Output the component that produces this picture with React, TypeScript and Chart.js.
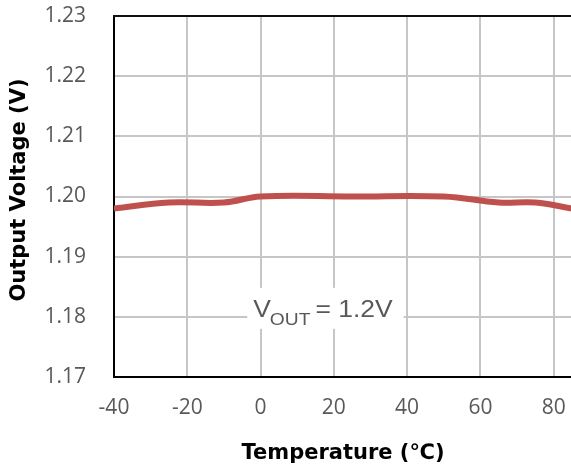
import React, { useEffect, useRef } from "react";
import { Chart, registerables } from "chart.js";

Chart.register(...registerables);

// Output voltage vs. junction temperature
const temperatures = [-40, -25, -10, 0, 25, 50, 65, 75, 85];
const outputVoltage = [1.198, 1.199, 1.199, 1.2, 1.2, 1.2, 1.199, 1.199, 1.198];
const xTickValues = [-40, -20, 0, 20, 40, 60, 80];
const yTickValues = [1.17, 1.18, 1.19, 1.2, 1.21, 1.22, 1.23];

const xTitle = "Temperature (℃)";
const yTitle = "Output Voltage (V)";
const noteMain = "V";
const noteSub = "OUT";
const noteRest = "= 1.2V";

const LINE_RED = "#C0504D";
const TEXT_GREY = "#595959";
const GRID_GREY = "#c6c6c6";
const TITLE_FONT = "bold 21px 'DejaVu Sans', sans-serif";

// Frame, axis titles and the V_OUT note
const decorations = {
  id: "decorations",
  beforeDatasetsDraw(chart: any) {
    const { ctx, scales } = chart;
    const x = scales.x;
    const y = scales.y;
    ctx.save();

    // note box, anchored to the data space
    const textLeft = x.getPixelForValue(-2);
    const baseline = y.getPixelForValue(1.18);
    const sx = 1.15;
    ctx.font = "23px 'Liberation Sans', Arial, sans-serif";
    const wMain = ctx.measureText(noteMain).width * sx;
    const wRest = ctx.measureText(noteRest).width * sx;
    ctx.font = "16px 'Liberation Sans', Arial, sans-serif";
    const wSub = ctx.measureText(noteSub).width * 1.2;
    const gap = 5;
    const total = wMain + wSub + gap + wRest;
    ctx.fillStyle = "#ffffff";
    ctx.fillRect(textLeft - 6, baseline - 29, total + 16, 41);

    ctx.fillStyle = TEXT_GREY;
    ctx.textBaseline = "alphabetic";
    ctx.textAlign = "left";
    ctx.save();
    ctx.translate(textLeft, baseline);
    ctx.scale(sx, 1);
    ctx.font = "23px 'Liberation Sans', Arial, sans-serif";
    ctx.fillText(noteMain, 0, 0);
    ctx.restore();
    ctx.save();
    ctx.translate(textLeft + wMain - 1, baseline + 8);
    ctx.scale(1.2, 1);
    ctx.font = "16px 'Liberation Sans', Arial, sans-serif";
    ctx.fillText(noteSub, 0, 0);
    ctx.restore();
    ctx.save();
    ctx.translate(textLeft + wMain - 1 + wSub + gap, baseline);
    ctx.scale(sx, 1);
    ctx.font = "23px 'Liberation Sans', Arial, sans-serif";
    ctx.fillText(noteRest, 0, 0);
    ctx.restore();

    ctx.restore();
  },
  afterDraw(chart: any) {
    const { ctx, chartArea } = chart;
    ctx.save();
    // top edge of the plot frame
    ctx.strokeStyle = "#111111";
    ctx.lineWidth = 2;
    ctx.beginPath();
    ctx.moveTo(chartArea.left - 1, chartArea.top);
    ctx.lineTo(chartArea.right + 2, chartArea.top);
    ctx.stroke();

    // axis titles
    ctx.fillStyle = "#000000";
    ctx.font = TITLE_FONT;
    ctx.textAlign = "center";
    ctx.textBaseline = "alphabetic";

    ctx.fillText(xTitle, (chartArea.left + chartArea.right) / 2, chartArea.bottom + 82);

    ctx.save();
    ctx.translate(25, (chartArea.top + chartArea.bottom) / 2 - 6.5);
    ctx.rotate(-Math.PI / 2);
    ctx.fillText(yTitle, 0, 0);
    ctx.restore();

    ctx.restore();
  },
};

export default function App() {
  const canvasRef = useRef<HTMLCanvasElement>(null);

  useEffect(() => {
    const canvas = canvasRef.current;
    if (!canvas) return;
    const chart = new Chart(canvas, {
      type: "line",
      data: {
        datasets: [
          {
            data: temperatures.map((t, i) => ({ x: t, y: outputVoltage[i] })),
            borderColor: LINE_RED,
            borderWidth: 6,
            pointRadius: 0,
            tension: 0.4,
            fill: false,
          },
        ],
      },
      options: {
        responsive: false,
        animation: false,
        events: [],
        layout: { padding: { top: 16, left: 0, right: 0, bottom: 0 } },
        plugins: {
          legend: { display: false },
          tooltip: { enabled: false },
        },
        scales: {
          x: {
            type: "linear",
            min: -40,
            max: 85,
            afterBuildTicks: (s: any) => {
              s.ticks = xTickValues.map((v) => ({ value: v }));
            },
            afterFit: (s: any) => {
              s.height = 95;
            },
            ticks: {
              includeBounds: false,
              autoSkip: false,
              maxRotation: 0,
              padding: 0,
              color: TEXT_GREY,
              font: { family: "'Open Sans'", size: 21 },
            },
            grid: {
              color: GRID_GREY,
              lineWidth: 2,
              drawTicks: true,
              tickLength: 18,
              tickColor: "rgba(0,0,0,0)",
            },
            border: { color: "#000000", width: 2 },
          },
          y: {
            type: "linear",
            min: 1.17,
            max: 1.23,
            afterBuildTicks: (s: any) => {
              s.ticks = yTickValues.map((v) => ({ value: v }));
            },
            afterFit: (s: any) => {
              s.width = 114;
            },
            ticks: {
              padding: 0,
              color: TEXT_GREY,
              font: { family: "'Open Sans'", size: 21 },
              callback: (v: any) => Number(v).toFixed(2),
            },
            grid: {
              color: GRID_GREY,
              lineWidth: 2,
              drawTicks: true,
              tickLength: 28,
              tickColor: "rgba(0,0,0,0)",
            },
            border: { color: "#000000", width: 2 },
          },
        },
      },
      plugins: [decorations],
    });
    return () => chart.destroy();
  }, []);

  return (
    <div
      style={{
        position: "fixed",
        left: 0,
        top: 0,
        width: 571,
        height: 472,
        overflow: "hidden",
        background: "#ffffff",
      }}
    >
      <canvas ref={canvasRef} width={572} height={472} style={{ display: "block" }} />
    </div>
  );
}
